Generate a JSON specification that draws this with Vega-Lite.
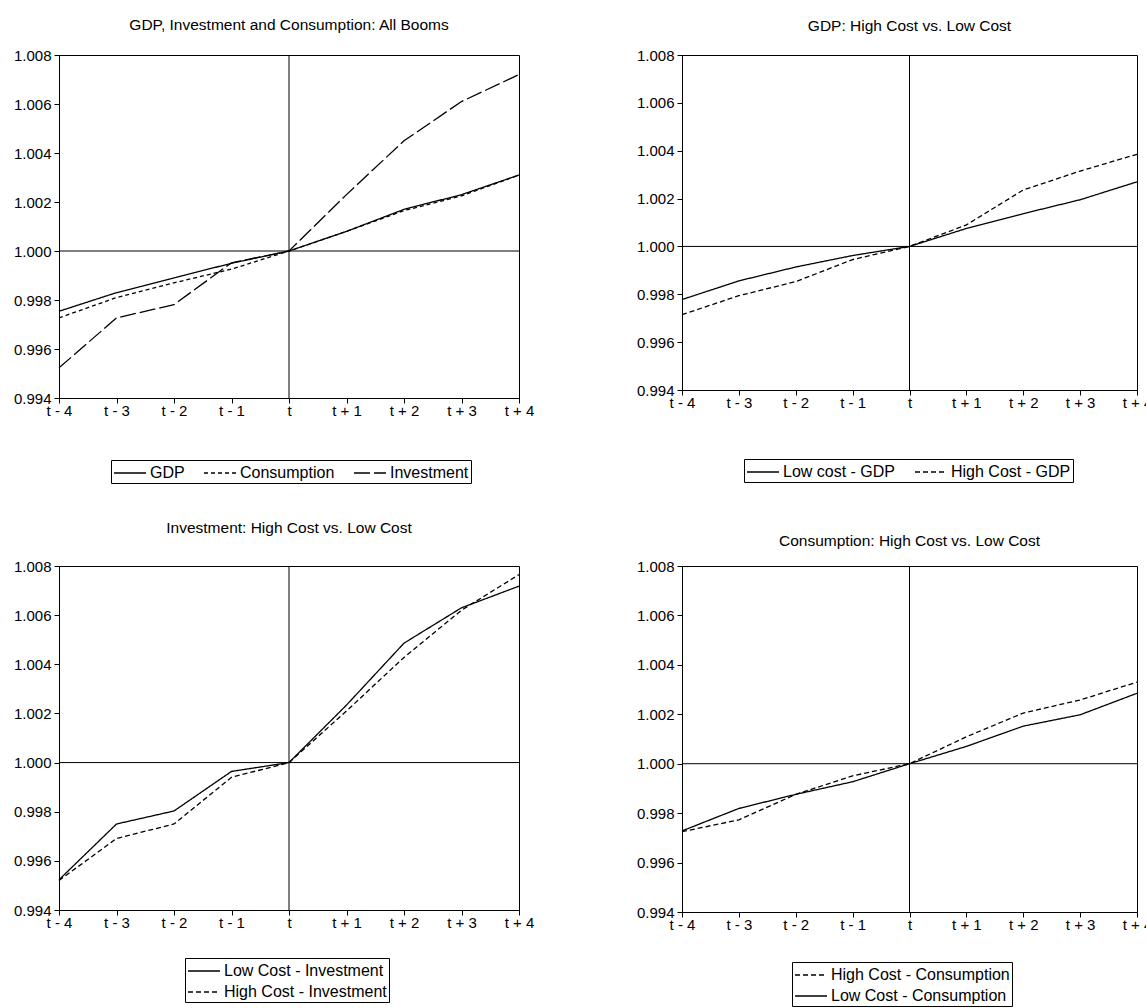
{
  "$schema": "https://vega.github.io/schema/vega-lite/v6.json",
  "background": "white",
  "padding": {"left": 12, "top": 17, "right": 0, "bottom": 0},
  "config": {
    "font": "Liberation Sans",
    "view": {"stroke": "black", "strokeWidth": 1},
    "axis": {"labelFont": "Liberation Sans", "labelFontSize": 15, "labelColor": "black", "domainColor": "black", "tickColor": "black", "tickSize": 5, "grid": false, "labelPadding": 3},
    "axisX": {"labelAlign": "center", "labelBaseline": "top", "labelPadding": 0},
    "title": {"font": "Liberation Sans", "fontSize": 15.5, "fontWeight": "normal", "color": "black", "anchor": "middle"},
    "legend": {"labelFont": "Liberation Sans", "labelFontSize": 16, "labelColor": "black", "symbolType": "M-1,0H2.2", "symbolStrokeColor": "black", "symbolFillColor": "transparent", "symbolStrokeWidth": 1.3, "symbolSize": 400, "strokeColor": "black", "padding": 2, "labelOffset": 15, "columnPadding": 16, "rowPadding": 2, "labelLimit": 400}
  },
  "datasets": {
    "p1": [
      {"period": "t - 4", "series": "GDP", "value": 0.99754},
      {"period": "t - 3", "series": "GDP", "value": 0.9983},
      {"period": "t - 2", "series": "GDP", "value": 0.9989},
      {"period": "t - 1", "series": "GDP", "value": 0.9995},
      {"period": "t", "series": "GDP", "value": 1.0},
      {"period": "t + 1", "series": "GDP", "value": 1.0008},
      {"period": "t + 2", "series": "GDP", "value": 1.0017},
      {"period": "t + 3", "series": "GDP", "value": 1.0023},
      {"period": "t + 4", "series": "GDP", "value": 1.0031},
      {"period": "t - 4", "series": "Consumption", "value": 0.99727},
      {"period": "t - 3", "series": "Consumption", "value": 0.9981},
      {"period": "t - 2", "series": "Consumption", "value": 0.9987},
      {"period": "t - 1", "series": "Consumption", "value": 0.99926},
      {"period": "t", "series": "Consumption", "value": 1.0},
      {"period": "t + 1", "series": "Consumption", "value": 1.0008},
      {"period": "t + 2", "series": "Consumption", "value": 1.00165},
      {"period": "t + 3", "series": "Consumption", "value": 1.00225},
      {"period": "t + 4", "series": "Consumption", "value": 1.0031},
      {"period": "t - 4", "series": "Investment", "value": 0.99523},
      {"period": "t - 3", "series": "Investment", "value": 0.99727},
      {"period": "t - 2", "series": "Investment", "value": 0.99781},
      {"period": "t - 1", "series": "Investment", "value": 0.99952},
      {"period": "t", "series": "Investment", "value": 1.0},
      {"period": "t + 1", "series": "Investment", "value": 1.0023},
      {"period": "t + 2", "series": "Investment", "value": 1.0045},
      {"period": "t + 3", "series": "Investment", "value": 1.0061},
      {"period": "t + 4", "series": "Investment", "value": 1.0072}
    ],
    "p2": [
      {"period": "t - 4", "series": "Low cost - GDP", "value": 0.99778},
      {"period": "t - 3", "series": "Low cost - GDP", "value": 0.99856},
      {"period": "t - 2", "series": "Low cost - GDP", "value": 0.99914},
      {"period": "t - 1", "series": "Low cost - GDP", "value": 0.99962},
      {"period": "t", "series": "Low cost - GDP", "value": 1.0},
      {"period": "t + 1", "series": "Low cost - GDP", "value": 1.00075},
      {"period": "t + 2", "series": "Low cost - GDP", "value": 1.00137},
      {"period": "t + 3", "series": "Low cost - GDP", "value": 1.00195},
      {"period": "t + 4", "series": "Low cost - GDP", "value": 1.0027},
      {"period": "t - 4", "series": "High Cost - GDP", "value": 0.99715},
      {"period": "t - 3", "series": "High Cost - GDP", "value": 0.99794},
      {"period": "t - 2", "series": "High Cost - GDP", "value": 0.99853},
      {"period": "t - 1", "series": "High Cost - GDP", "value": 0.99945},
      {"period": "t", "series": "High Cost - GDP", "value": 1.0},
      {"period": "t + 1", "series": "High Cost - GDP", "value": 1.0009},
      {"period": "t + 2", "series": "High Cost - GDP", "value": 1.00236},
      {"period": "t + 3", "series": "High Cost - GDP", "value": 1.00315},
      {"period": "t + 4", "series": "High Cost - GDP", "value": 1.00385}
    ],
    "p3": [
      {"period": "t - 4", "series": "Low Cost - Investment", "value": 0.99523},
      {"period": "t - 3", "series": "Low Cost - Investment", "value": 0.9975},
      {"period": "t - 2", "series": "Low Cost - Investment", "value": 0.99803},
      {"period": "t - 1", "series": "Low Cost - Investment", "value": 0.99964},
      {"period": "t", "series": "Low Cost - Investment", "value": 1.0},
      {"period": "t + 1", "series": "Low Cost - Investment", "value": 1.00234},
      {"period": "t + 2", "series": "Low Cost - Investment", "value": 1.00486},
      {"period": "t + 3", "series": "Low Cost - Investment", "value": 1.0063},
      {"period": "t + 4", "series": "Low Cost - Investment", "value": 1.00718},
      {"period": "t - 4", "series": "High Cost - Investment", "value": 0.9952},
      {"period": "t - 3", "series": "High Cost - Investment", "value": 0.99691},
      {"period": "t - 2", "series": "High Cost - Investment", "value": 0.9975},
      {"period": "t - 1", "series": "High Cost - Investment", "value": 0.9994},
      {"period": "t", "series": "High Cost - Investment", "value": 1.0},
      {"period": "t + 1", "series": "High Cost - Investment", "value": 1.0021},
      {"period": "t + 2", "series": "High Cost - Investment", "value": 1.00428},
      {"period": "t + 3", "series": "High Cost - Investment", "value": 1.0062},
      {"period": "t + 4", "series": "High Cost - Investment", "value": 1.00765}
    ],
    "p4": [
      {"period": "t - 4", "series": "High Cost - Consumption", "value": 0.99725},
      {"period": "t - 3", "series": "High Cost - Consumption", "value": 0.99773},
      {"period": "t - 2", "series": "High Cost - Consumption", "value": 0.99876},
      {"period": "t - 1", "series": "High Cost - Consumption", "value": 0.99951},
      {"period": "t", "series": "High Cost - Consumption", "value": 1.0},
      {"period": "t + 1", "series": "High Cost - Consumption", "value": 1.00109},
      {"period": "t + 2", "series": "High Cost - Consumption", "value": 1.00205},
      {"period": "t + 3", "series": "High Cost - Consumption", "value": 1.00258},
      {"period": "t + 4", "series": "High Cost - Consumption", "value": 1.0033},
      {"period": "t - 4", "series": "Low Cost - Consumption", "value": 0.99728},
      {"period": "t - 3", "series": "Low Cost - Consumption", "value": 0.99819},
      {"period": "t - 2", "series": "Low Cost - Consumption", "value": 0.99876},
      {"period": "t - 1", "series": "Low Cost - Consumption", "value": 0.99927},
      {"period": "t", "series": "Low Cost - Consumption", "value": 1.0},
      {"period": "t + 1", "series": "Low Cost - Consumption", "value": 1.0007},
      {"period": "t + 2", "series": "Low Cost - Consumption", "value": 1.00152},
      {"period": "t + 3", "series": "Low Cost - Consumption", "value": 1.00198},
      {"period": "t + 4", "series": "Low Cost - Consumption", "value": 1.00285}
    ],
    "ref": [{"k": 1}]
  },
  "bounds": "flush",
  "columns": 2,
  "spacing": {"row": 168, "column": 163},
  "resolve": {
    "scale": {"x": "independent", "y": "independent", "strokeDash": "independent"},
    "axis": {"x": "independent", "y": "independent"},
    "legend": {"strokeDash": "independent"}
  },
  "concat": [
    {
      "width": 460, "height": 343,
      "title": {"text": "GDP, Investment and Consumption: All Booms", "offset": 15},
      "layer": [
        {"data": {"name": "ref"}, "mark": {"type": "rule", "color": "black", "strokeWidth": 1},
         "encoding": {"x": {"datum": "t", "type": "ordinal", "scale": {"type": "point", "padding": 0, "domain": ["t - 4","t - 3","t - 2","t - 1","t","t + 1","t + 2","t + 3","t + 4"]}, "title": null}}},
        {"data": {"name": "ref"}, "mark": {"type": "rule", "color": "black", "strokeWidth": 1},
         "encoding": {"y": {"datum": 1, "type": "quantitative", "scale": {"domain": [0.994, 1.008], "nice": false, "zero": false}, "title": null}}},
        {"data": {"name": "p1"}, "mark": {"type": "line", "color": "black", "strokeWidth": 1.3},
         "encoding": {
           "x": {"field": "period", "type": "ordinal", "scale": {"type": "point", "padding": 0, "domain": ["t - 4","t - 3","t - 2","t - 1","t","t + 1","t + 2","t + 3","t + 4"]}, "axis": {"labelAngle": 0, "labelAlign": "center"}, "title": null},
           "y": {"field": "value", "type": "quantitative", "scale": {"domain": [0.994, 1.008], "nice": false, "zero": false}, "axis": {"values": [0.994, 0.996, 0.998, 1.0, 1.002, 1.004, 1.006, 1.008], "format": ".3f"}, "title": null},
           "strokeDash": {"field": "series", "type": "nominal", "scale": {"domain": ["GDP", "Consumption", "Investment"], "range": [[1, 0], [4, 3], [16, 4]]},
             "legend": {"title": null, "orient": "none", "legendX": 52, "legendY": 405, "direction": "horizontal", "columns": 3}}
         }}
      ]
    },
    {
      "width": 455, "height": 335,
      "title": {"text": "GDP: High Cost vs. Low Cost", "offset": 14},
      "layer": [
        {"data": {"name": "ref"}, "mark": {"type": "rule", "color": "black", "strokeWidth": 1},
         "encoding": {"x": {"datum": "t", "type": "ordinal", "scale": {"type": "point", "padding": 0, "domain": ["t - 4","t - 3","t - 2","t - 1","t","t + 1","t + 2","t + 3","t + 4"]}, "title": null}}},
        {"data": {"name": "ref"}, "mark": {"type": "rule", "color": "black", "strokeWidth": 1},
         "encoding": {"y": {"datum": 1, "type": "quantitative", "scale": {"domain": [0.994, 1.008], "nice": false, "zero": false}, "title": null}}},
        {"data": {"name": "p2"}, "mark": {"type": "line", "color": "black", "strokeWidth": 1.3},
         "encoding": {
           "x": {"field": "period", "type": "ordinal", "scale": {"type": "point", "padding": 0, "domain": ["t - 4","t - 3","t - 2","t - 1","t","t + 1","t + 2","t + 3","t + 4"]}, "axis": {"labelAngle": 0, "labelAlign": "center"}, "title": null},
           "y": {"field": "value", "type": "quantitative", "scale": {"domain": [0.994, 1.008], "nice": false, "zero": false}, "axis": {"values": [0.994, 0.996, 0.998, 1.0, 1.002, 1.004, 1.006, 1.008], "format": ".3f"}, "title": null},
           "strokeDash": {"field": "series", "type": "nominal", "scale": {"domain": ["Low cost - GDP", "High Cost - GDP"], "range": [[1, 0], [5, 3]]},
             "legend": {"title": null, "orient": "none", "legendX": 62, "legendY": 404, "direction": "horizontal", "columns": 2}}
         }}
      ]
    },
    {
      "width": 460, "height": 344,
      "title": {"text": "Investment: High Cost vs. Low Cost", "offset": 23},
      "layer": [
        {"data": {"name": "ref"}, "mark": {"type": "rule", "color": "black", "strokeWidth": 1},
         "encoding": {"x": {"datum": "t", "type": "ordinal", "scale": {"type": "point", "padding": 0, "domain": ["t - 4","t - 3","t - 2","t - 1","t","t + 1","t + 2","t + 3","t + 4"]}, "title": null}}},
        {"data": {"name": "ref"}, "mark": {"type": "rule", "color": "black", "strokeWidth": 1},
         "encoding": {"y": {"datum": 1, "type": "quantitative", "scale": {"domain": [0.994, 1.008], "nice": false, "zero": false}, "title": null}}},
        {"data": {"name": "p3"}, "mark": {"type": "line", "color": "black", "strokeWidth": 1.3},
         "encoding": {
           "x": {"field": "period", "type": "ordinal", "scale": {"type": "point", "padding": 0, "domain": ["t - 4","t - 3","t - 2","t - 1","t","t + 1","t + 2","t + 3","t + 4"]}, "axis": {"labelAngle": 0, "labelAlign": "center"}, "title": null},
           "y": {"field": "value", "type": "quantitative", "scale": {"domain": [0.994, 1.008], "nice": false, "zero": false}, "axis": {"values": [0.994, 0.996, 0.998, 1.0, 1.002, 1.004, 1.006, 1.008], "format": ".3f"}, "title": null},
           "strokeDash": {"field": "series", "type": "nominal", "scale": {"domain": ["Low Cost - Investment", "High Cost - Investment"], "range": [[1, 0], [5, 3]]},
             "legend": {"title": null, "orient": "none", "legendX": 126, "legendY": 392, "direction": "vertical", "columns": 1}}
         }}
      ]
    },
    {
      "width": 455, "height": 346,
      "title": {"text": "Consumption: High Cost vs. Low Cost", "offset": 10},
      "layer": [
        {"data": {"name": "ref"}, "mark": {"type": "rule", "color": "black", "strokeWidth": 1},
         "encoding": {"x": {"datum": "t", "type": "ordinal", "scale": {"type": "point", "padding": 0, "domain": ["t - 4","t - 3","t - 2","t - 1","t","t + 1","t + 2","t + 3","t + 4"]}, "title": null}}},
        {"data": {"name": "ref"}, "mark": {"type": "rule", "color": "black", "strokeWidth": 1},
         "encoding": {"y": {"datum": 1, "type": "quantitative", "scale": {"domain": [0.994, 1.008], "nice": false, "zero": false}, "title": null}}},
        {"data": {"name": "p4"}, "mark": {"type": "line", "color": "black", "strokeWidth": 1.3},
         "encoding": {
           "x": {"field": "period", "type": "ordinal", "scale": {"type": "point", "padding": 0, "domain": ["t - 4","t - 3","t - 2","t - 1","t","t + 1","t + 2","t + 3","t + 4"]}, "axis": {"labelAngle": 0, "labelAlign": "center"}, "title": null},
           "y": {"field": "value", "type": "quantitative", "scale": {"domain": [0.994, 1.008], "nice": false, "zero": false}, "axis": {"values": [0.994, 0.996, 0.998, 1.0, 1.002, 1.004, 1.006, 1.008], "format": ".3f"}, "title": null},
           "strokeDash": {"field": "series", "type": "nominal", "scale": {"domain": ["High Cost - Consumption", "Low Cost - Consumption"], "range": [[5, 3], [1, 0]]},
             "legend": {"title": null, "orient": "none", "legendX": 110, "legendY": 396, "direction": "vertical", "columns": 1}}
         }}
      ]
    }
  ]
}
